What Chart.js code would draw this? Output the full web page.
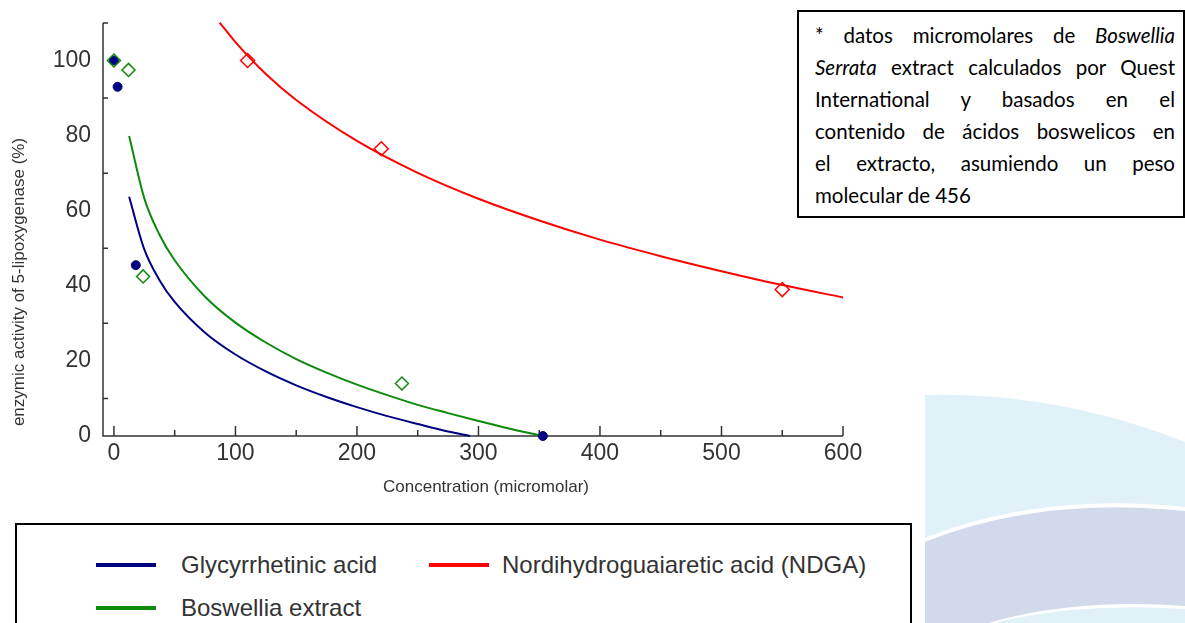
<!DOCTYPE html>
<html>
<head>
<meta charset="utf-8">
<script src="https://cdn.jsdelivr.net/npm/chart.js@4/dist/chart.umd.min.js"></script>
<style>
	body { margin: 0; width: 1185px; height: 623px; overflow: hidden; position: relative; background: #fff; font-family: "Liberation Sans", Arial, sans-serif; }
	#deco { position: absolute; left: 0; top: 0; }
	#grafico { position: absolute; left: 0; top: 0; }
	#nota { position: absolute; left: 797px; top: 10px; width: 368px; height: 197px; border: 2px solid #000; padding: 7px 0 0 16px; font-family: Lato, "Open Sans", sans-serif; font-size: 20.5px; line-height: 32px; color: #000; background: #fff; }
	#nota div { width: 360px; text-align: justify; text-align-last: justify; white-space: nowrap; }
	#nota div.ultima { text-align-last: left; }
	#leyenda { position: absolute; left: 15px; top: 523px; width: 893px; height: 120px; border: 2px solid #000; background: #fff; }
	.item { position: absolute; font-size: 24px; color: #333; line-height: 26px; }
	.item span.linea { position: absolute; top: 11px; width: 60px; height: 4px; }
</style>
</head>
<body>
<svg id="deco" width="1185" height="623">
	<path d="M925,395 Q1060,392 1185,442 L1185,507 Q1040,492 925,538 Z" fill="#e0f1f8"/>
	<path d="M925,542 Q1040,496 1185,511 L1185,606 Q1075,598 988,623 L925,623 Z" fill="#d1d9eb"/>
	<path d="M994,623 Q1078,602 1185,609 L1185,623 Z" fill="#e0f1f8"/>
</svg>
<canvas id="grafico" width="1185" height="623"></canvas>
<div id="nota">
	<div>* datos micromolares de <i>Boswellia</i></div>
	<div><i>Serrata</i> extract calculados por Quest</div>
	<div>International y basados en el</div>
	<div>contenido de ácidos boswelicos en</div>
	<div>el extracto, asumiendo un peso</div>
	<div class="ultima">molecular de 456</div>
</div>
<div id="leyenda"></div>
<script>
// series
var series = ["Glycyrrhetinic acid", "Boswellia extract", "Nordihydroguaiaretic acid (NDGA)"];
var colores = ["#000080", "#0b8a0b", "#ff0000"];

// curvas ajustadas
var glyCurvaX = [12.5, 25, 37.5, 50, 75, 100, 125, 150, 175, 200, 225, 250, 275, 293];
var glyCurvaY = [63.7, 49.7, 41.5, 35.7, 27.5, 21.7, 17.2, 13.5, 10.4, 7.7, 5.3, 3.2, 1.2, 0];
var boswCurvaX = [12.5, 25, 37.5, 50, 75, 100, 125, 150, 175, 200, 225, 250, 275, 300, 325, 353];
var boswCurvaY = [79.9, 63.3, 53.6, 46.8, 37.1, 30.2, 24.9, 20.5, 16.9, 13.7, 10.9, 8.3, 6.1, 4.0, 2.0, 0];
var ndgaCurvaX = [87, 100, 125, 150, 200, 250, 300, 350, 400, 450, 500, 550, 600];
var ndgaCurvaY = [110.1, 104.9, 96.4, 89.5, 78.6, 70.1, 63.2, 57.4, 52.3, 47.9, 43.9, 40.2, 36.9];

// puntos medidos
var glyPuntosX = [0, 3, 18, 353];
var glyPuntosY = [100, 93, 45.5, 0];
var boswPuntosX = [0, 12, 24, 237];
var boswPuntosY = [100, 97.5, 42.5, 14];
var ndgaPuntosX = [110, 220, 550];
var ndgaPuntosY = [100, 76.5, 39];

// ejes
var xEtiquetas = [0, 100, 200, 300, 400, 500, 600];
var xMenores = [50, 150, 250, 350, 450, 550];
var yEtiquetas = [0, 20, 40, 60, 80, 100];
var yMarcas = [10, 30, 50, 70, 90, 110];
var tituloX = "Concentration (micromolar)";
var tituloY = "enzymic activity of 5-lipoxygenase (%)";

function pares(xs, ys) {
	return xs.map(function (v, i) { return { x: v, y: ys[i] }; });
}

function curva(xs, ys, color) {
	return {
		data: pares(xs, ys),
		showLine: true,
		borderColor: color,
		borderWidth: 2,
		pointRadius: 0,
		cubicInterpolationMode: "monotone",
		fill: false,
		clip: false,
		order: 3
	};
}

var ejes = {
	id: "ejes",
	beforeDatasetsDraw: function (chart) {
		var ctx = chart.ctx;
		var x = chart.scales.x, y = chart.scales.y;
		var x0 = x.getPixelForValue(x.min), x1 = x.getPixelForValue(x.max);
		var y0 = y.getPixelForValue(0), y1 = y.getPixelForValue(y.max);
		ctx.save();
		ctx.strokeStyle = "#333";
		ctx.lineWidth = 1.5;
		ctx.beginPath();
		ctx.moveTo(x0, y1);
		ctx.lineTo(x0, y0);
		ctx.lineTo(x1, y0);
		yMarcas.forEach(function (v) {
			var p = y.getPixelForValue(v);
			ctx.moveTo(x0, p);
			ctx.lineTo(x0 + 5, p);
		});
		xEtiquetas.forEach(function (v) {
			var p = x.getPixelForValue(v);
			ctx.moveTo(p, y0);
			ctx.lineTo(p, y0 - 10);
		});
		xMenores.forEach(function (v) {
			var p = x.getPixelForValue(v);
			ctx.moveTo(p, y0);
			ctx.lineTo(p, y0 - 6);
		});
		ctx.stroke();

		ctx.fillStyle = "#333";
		ctx.font = '23px "Liberation Sans", Arial, sans-serif';
		ctx.textAlign = "right";
		ctx.textBaseline = "middle";
		yEtiquetas.forEach(function (v) {
			ctx.fillText(String(v), x0 - 12, y.getPixelForValue(v));
		});
		ctx.textAlign = "center";
		xEtiquetas.forEach(function (v) {
			ctx.fillText(String(v), x.getPixelForValue(v), y0 + 18);
		});

		ctx.font = '17px "Liberation Sans", Arial, sans-serif';
		ctx.fillText(tituloX, 486, 487);
		ctx.translate(19, 282);
		ctx.rotate(-Math.PI / 2);
		ctx.fillText(tituloY, 0, 0);
		ctx.restore();
	}
};

var chart = new Chart(document.getElementById("grafico").getContext("2d"), {
	type: "scatter",
	data: {
		datasets: [
			curva(glyCurvaX, glyCurvaY, colores[0]),
			curva(boswCurvaX, boswCurvaY, colores[1]),
			curva(ndgaCurvaX, ndgaCurvaY, colores[2]),
			{
				data: pares(glyPuntosX, glyPuntosY),
				pointStyle: "circle",
				pointRadius: 4.5,
				backgroundColor: colores[0],
				borderColor: colores[0],
				borderWidth: 1,
				clip: false,
				order: 2
			},
			{
				data: pares(boswPuntosX, boswPuntosY),
				pointStyle: "rectRot",
				pointRadius: 6.5,
				backgroundColor: "rgba(0,0,0,0)",
				borderColor: colores[1],
				borderWidth: 1.5,
				clip: false,
				order: 1
			},
			{
				data: pares(ndgaPuntosX, ndgaPuntosY),
				pointStyle: "rectRot",
				pointRadius: 7,
				backgroundColor: "rgba(0,0,0,0)",
				borderColor: colores[2],
				borderWidth: 1.5,
				clip: false,
				order: 1
			}
		]
	},
	options: {
		responsive: false,
		animation: false,
		layout: { padding: { left: 103, right: 342, top: 23, bottom: 187 } },
		scales: {
			x: { type: "linear", min: -9, max: 600, display: false },
			y: { type: "linear", min: 0, max: 110, display: false }
		},
		plugins: {
			legend: { display: false },
			tooltip: { enabled: false }
		}
	},
	plugins: [ejes]
});

// leyenda: [izquierda texto, arriba, izquierda linea relativa]
var posiciones = [[164, 27, -85], [164, 70, -85], [485, 27, -73]];
var leyenda = document.getElementById("leyenda");
series.forEach(function (nombre, i) {
	var item = document.createElement("div");
	item.className = "item";
	item.style.left = posiciones[i][0] + "px";
	item.style.top = posiciones[i][1] + "px";
	item.innerHTML = '<span class="linea" style="left:' + posiciones[i][2] + 'px;background:' + colores[i] + '"></span>' + nombre;
	leyenda.appendChild(item);
});
</script>
</body>
</html>
